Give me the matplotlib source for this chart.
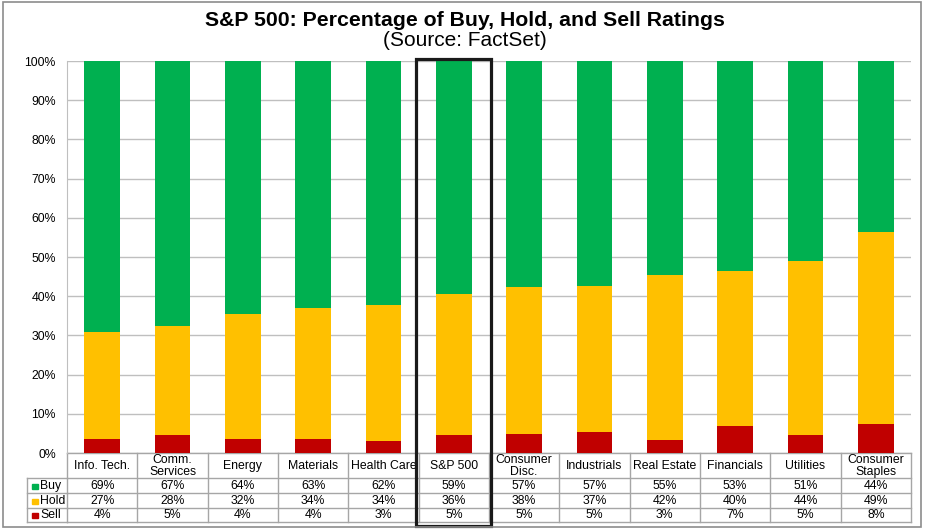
import matplotlib.pyplot as plt
import matplotlib.transforms as mtransforms
from matplotlib.patches import Rectangle

plt.rcParams['font.family'] = ['Liberation Sans', 'DejaVu Sans']

# Datos
sectores = ['Info. Tech.', 'Comm.\nServices', 'Energy', 'Materials', 'Health Care', 'S&P 500',
            'Consumer\nDisc.', 'Industrials', 'Real Estate', 'Financials', 'Utilities',
            'Consumer\nStaples']
buy = [69.1, 67.5, 64.5, 62.9, 62.2, 59.5, 57.6, 57.4, 54.7, 53.5, 51.0, 43.7]
hold = [27.3, 28.0, 31.9, 33.5, 34.7, 35.9, 37.6, 37.3, 42.1, 39.7, 44.3, 48.8]
sell = [3.6, 4.5, 3.6, 3.6, 3.1, 4.6, 4.8, 5.3, 3.2, 6.8, 4.7, 7.5]
# valores mostrados en la tabla
buy_tabla = [69, 67, 64, 63, 62, 59, 57, 57, 55, 53, 51, 44]
hold_tabla = [27, 28, 32, 34, 34, 36, 38, 37, 42, 40, 44, 49]
sell_tabla = [4, 5, 4, 4, 3, 5, 5, 5, 3, 7, 5, 8]

verde = '#00B050'
amarillo = '#FFC000'
rojo = '#C00000'
gris = '#A6A6A6'

W, H = 929, 532
fig = plt.figure(figsize=(W / 100, H / 100), dpi=100)

def fx(px):
    return px / W

def fy(py):
    return 1 - py / H

ax = fig.add_axes([fx(67), fy(453), fx(911) - fx(67), fy(61) - fy(453)])

x = list(range(len(sectores)))
ax.bar(x, sell, width=0.51, color=rojo, zorder=3)
base = [s for s in sell]
ax.bar(x, hold, width=0.51, bottom=base, color=amarillo, zorder=3)
base = [s + h for s, h in zip(sell, hold)]
ax.bar(x, buy, width=0.51, bottom=base, color=verde, zorder=3)

ax.set_xlim(-0.5, len(sectores) - 0.5)
ax.set_ylim(0, 100)
ax.set_yticks(range(0, 101, 10))
ax.set_yticklabels([f'{v}%' for v in range(0, 101, 10)], fontsize=8.8)
ax.set_xticks([])
ax.yaxis.grid(True, color='#BFBFBF', linewidth=1, zorder=0)
ax.tick_params(axis='y', length=0, pad=8)
for lado in ['top', 'right', 'bottom']:
    ax.spines[lado].set_visible(False)
ax.spines['left'].set_color('#BFBFBF')

# Titulo
fig.text(0.5, fy(20), 'S&P 500: Percentage of Buy, Hold, and Sell Ratings', ha='center', va='center',
         fontsize=15.3, fontweight='bold')
fig.text(0.5, fy(41), '(Source: FactSet)', ha='center', va='center', fontsize=15)

# Tabla de datos
tr = mtransforms.blended_transform_factory(ax.transData, fig.transFigure)
filas_y = [453, 478, 493, 508, 522]
izq = -0.5
der = len(sectores) - 0.5
col_leyenda = fx(27)

for i, yp in enumerate(filas_y):
    ax.plot([izq, der], [fy(yp), fy(yp)], transform=tr, color=gris, lw=1, clip_on=False)
    if i >= 1:
        fig.add_artist(plt.Line2D([col_leyenda, fx(67)], [fy(yp), fy(yp)], color=gris, lw=1))
for k in range(len(sectores) + 1):
    xv = k - 0.5
    ax.plot([xv, xv], [fy(453), fy(522)], transform=tr, color=gris, lw=1, clip_on=False)
fig.add_artist(plt.Line2D([col_leyenda, col_leyenda], [fy(478), fy(522)], color=gris, lw=1))

fs = 8.8
for i, nombre in enumerate(sectores):
    ax.text(i, fy(466), nombre, transform=tr, ha='center', va='center', fontsize=fs,
            linespacing=0.9)
    ax.text(i, fy(486), f'{buy_tabla[i]}%', transform=tr, ha='center', va='center', fontsize=fs)
    ax.text(i, fy(501), f'{hold_tabla[i]}%', transform=tr, ha='center', va='center', fontsize=fs)
    ax.text(i, fy(515.5), f'{sell_tabla[i]}%', transform=tr, ha='center', va='center', fontsize=fs)

for etiqueta, color, yp in [('Buy', verde, 486), ('Hold', amarillo, 501), ('Sell', rojo, 515.5)]:
    fig.add_artist(Rectangle((fx(32), fy(yp) - 2.5 / H), 6 / W, 5 / H, color=color,
                             transform=fig.transFigure))
    fig.text(fx(40), fy(yp), etiqueta, ha='left', va='center', fontsize=fs)

# Recuadro S&P 500
fig.add_artist(Rectangle((fx(416), fy(526)), fx(491) - fx(416), fy(59) - fy(526), fill=False,
                         edgecolor='#1a1a1a', lw=2.3, transform=fig.transFigure))

# Borde exterior
fig.add_artist(Rectangle((fx(2.5), fy(527)), fx(921.5) - fx(2.5), fy(1.5) - fy(527), fill=False,
                         edgecolor='#8c8c8c', lw=1.2, transform=fig.transFigure))

fig.savefig('out.png', dpi=100)
